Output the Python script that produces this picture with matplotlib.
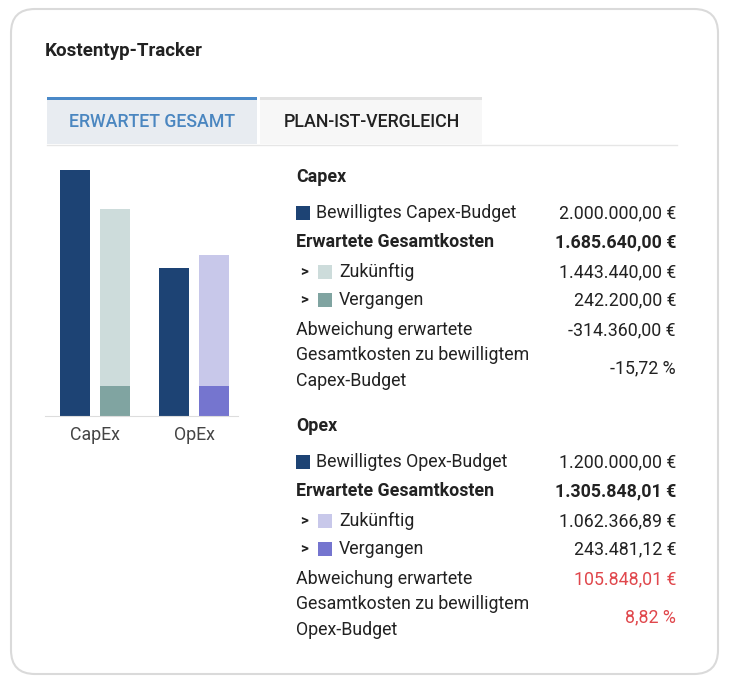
import matplotlib
matplotlib.use("Agg")
import matplotlib.pyplot as plt
from matplotlib.patches import FancyBboxPatch, Rectangle

plt.rcParams['font.family'] = ['Roboto', 'DejaVu Sans']

# data
categories = ['CapEx', 'OpEx']
budget = [2000000.00, 1200000.00]
future = [1443440.00, 1062366.89]
past = [242200.00, 243481.12]

budget_color = '#1d4374'
future_colors = ['#cddcdb', '#c8c8ea']
past_colors = ['#80a4a1', '#7575cf']

capex_rows = [
    ('Bewilligtes Capex-Budget', '2.000.000,00 €'),
    ('Erwartete Gesamtkosten', '1.685.640,00 €'),
    ('Zukünftig', '1.443.440,00 €'),
    ('Vergangen', '242.200,00 €'),
    ('Abweichung erwartete', '-314.360,00 €'),
]
capex_pct = '-15,72 %'
opex_rows = [
    ('Bewilligtes Opex-Budget', '1.200.000,00 €'),
    ('Erwartete Gesamtkosten', '1.305.848,01 €'),
    ('Zukünftig', '1.062.366,89 €'),
    ('Vergangen', '243.481,12 €'),
    ('Abweichung erwartete', '105.848,01 €'),
]
opex_pct = '8,82 %'

W, H = 734, 685
fig = plt.figure(figsize=(W / 100, H / 100), dpi=100)

# background layer in pixel coordinates
bg = fig.add_axes([0, 0, 1, 1])
bg.set_xlim(0, W)
bg.set_ylim(H, 0)
bg.axis('off')

card = FancyBboxPatch((11, 9), 707, 665, boxstyle="round,pad=0,rounding_size=24",
                      fc='white', ec='#dadada', lw=1.5)
bg.add_patch(card)

txt = '#222222'
bg.text(45, 51, 'Kostentyp-Tracker', fontsize=13.5, fontweight='bold',
        color=txt, va='center', ha='left')

# tabs
bg.add_patch(Rectangle((47, 97), 210, 47, fc='#e8ecf1', ec='none'))
bg.add_patch(Rectangle((47, 97), 210, 3, fc='#4a89c8', ec='none'))
bg.add_patch(Rectangle((260, 97), 222, 47, fc='#f7f7f7', ec='none'))
bg.add_patch(Rectangle((260, 97), 222, 2.5, fc='#e2e2e2', ec='none'))
bg.plot([47, 677], [144.5, 144.5], color='#e6e6e6', lw=1)
bg.text(152, 122, 'ERWARTET GESAMT', fontsize=12.8, fontweight='medium',
        color='#4a86c0', ha='center', va='center')
bg.text(372, 122, 'PLAN-IST-VERGLEICH', fontsize=12.8, fontweight='medium',
        color=txt, ha='center', va='center')


def draw_block(y0, title, rows, pct, fut_c, past_c, red=False):
    xl, xr = 296, 676
    fs = 12.8
    bg.text(xl, y0 + 1, title, fontsize=fs, fontweight='bold', color=txt,
            va='center', ha='left')
    ys = [y0 + 36, y0 + 65, y0 + 95, y0 + 123, y0 + 153]
    val_col = '#e0474c' if red else txt
    for i, (lab, val) in enumerate(rows):
        y = ys[i] + 1
        if i == 0:
            bg.add_patch(Rectangle((xl, y - 7), 14, 14, fc=budget_color, ec='none'))
            bg.text(316, y, lab, fontsize=fs, color=txt, va='center')
            bg.text(xr, y, val, fontsize=fs, color=txt, va='center', ha='right')
        elif i == 1:
            bg.text(xl, y, lab, fontsize=fs, fontweight='bold', color=txt, va='center')
            bg.text(xr, y, val, fontsize=fs, fontweight='bold', color=txt,
                    va='center', ha='right')
        elif i in (2, 3):
            c = fut_c if i == 2 else past_c
            bg.text(304, y, '>', fontsize=11, fontweight='bold', color=txt,
                    va='center', ha='center')
            bg.add_patch(Rectangle((318, y - 7), 14, 14, fc=c, ec='none'))
            bg.text(339, y, lab, fontsize=fs, color=txt, va='center')
            bg.text(xr, y, val, fontsize=fs, color=txt, va='center', ha='right')
        else:
            bg.text(xl, y, lab, fontsize=fs, color=txt, va='center')
            bg.text(xr, y, val, fontsize=fs, color=val_col, va='center', ha='right')
    bg.text(xl, y0 + 179, 'Gesamtkosten zu bewilligtem', fontsize=fs,
            color=txt, va='center')
    bg.text(xl, y0 + 205, title + '-Budget', fontsize=fs, color=txt, va='center')
    bg.text(xr, y0 + 192, pct, fontsize=fs, color=val_col, va='center', ha='right')


draw_block(176, 'Capex', capex_rows, capex_pct, future_colors[0], past_colors[0])
draw_block(425, 'Opex', opex_rows, opex_pct, future_colors[1], past_colors[1], red=True)

# bar chart
ax = fig.add_axes([45 / W, 1 - 416 / H, (238 - 45) / W, (416 - 170) / H])
x = list(range(len(categories)))
off, bw = 0.2, 0.3
ax.bar([i - off for i in x], budget, width=bw, color=budget_color)
ax.bar([i + off for i in x], past, width=bw, color=past_colors)
ax.bar([i + off for i in x], future, width=bw, bottom=past, color=future_colors)
ax.set_xlim(-0.505, 1.445)
ax.set_ylim(0, 2000000)
for s in ['top', 'right', 'left']:
    ax.spines[s].set_visible(False)
ax.spines['bottom'].set_color('#dddddd')
ax.set_yticks([])
ax.set_xticks(x)
ax.set_xticklabels(categories, fontsize=12.8, color='#444444')
ax.tick_params(axis='x', length=0, pad=7)
ax.patch.set_alpha(0)

fig.savefig('out.png', dpi=100)
